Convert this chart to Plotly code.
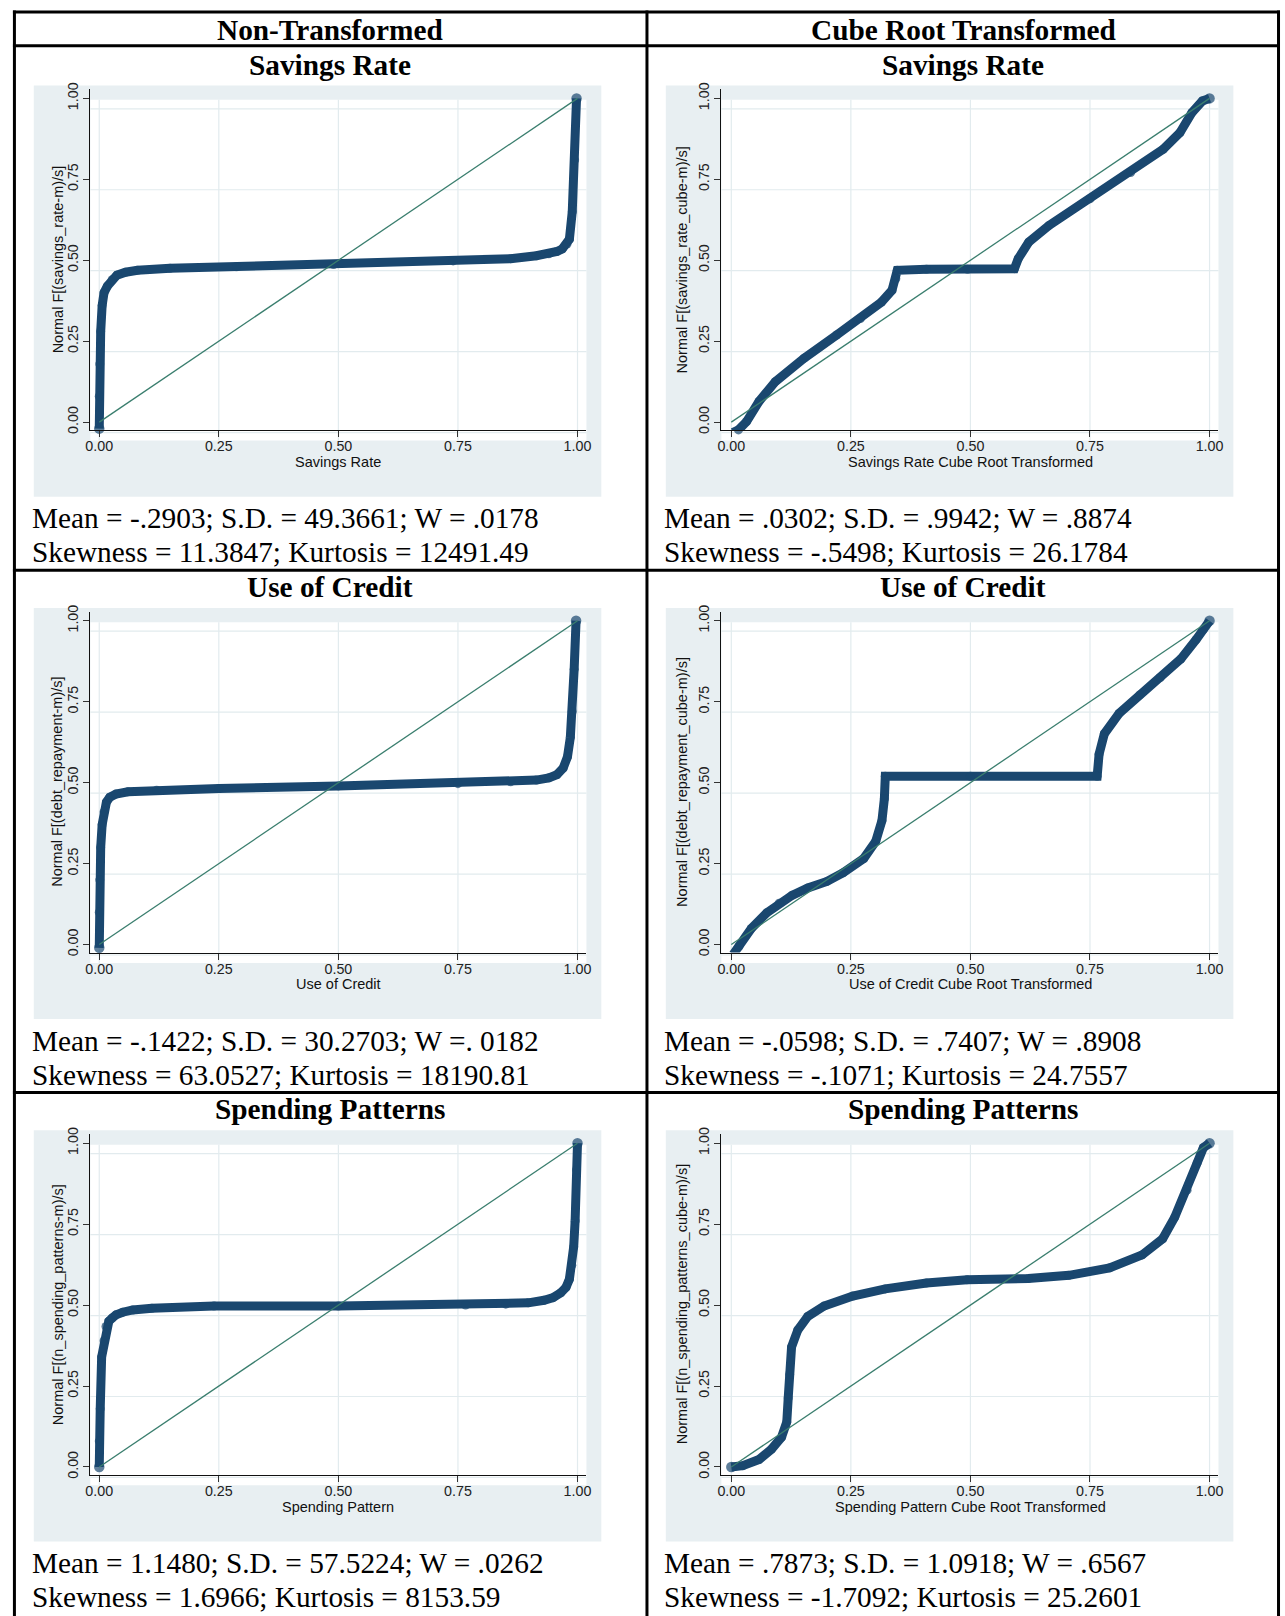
import plotly.graph_objects as go

W, H = 1285, 1616

# ---------------- data ----------------
col_headers = ["Non-Transformed", "Cube Root Transformed"]
row_titles = ["Savings Rate", "Use of Credit", "Spending Patterns"]

x_titles = [
    ["Savings Rate", "Savings Rate Cube Root Transformed"],
    ["Use of Credit", "Use of Credit Cube Root Transformed"],
    ["Spending Pattern", "Spending Pattern Cube Root Transformed"],
]
y_titles = [
    ["Normal F[(savings_rate-m)/s]", "Normal F[(savings_rate_cube-m)/s]"],
    ["Normal F[(debt_repayment-m)/s]", "Normal F[(debt_repayment_cube-m)/s]"],
    ["Normal F[(n_spending_patterns-m)/s]", "Normal F[(n_spending_patterns_cube-m)/s]"],
]
stats_line1 = [
    ["Mean = -.2903; S.D. = 49.3661; W = .0178", "Mean = .0302; S.D. = .9942; W = .8874"],
    ["Mean = -.1422; S.D. = 30.2703; W =. 0182", "Mean = -.0598; S.D. = .7407; W = .8908"],
    ["Mean = 1.1480; S.D. = 57.5224; W = .0262", "Mean = .7873; S.D. = 1.0918; W = .6567"],
]
stats_line2 = [
    ["Skewness = 11.3847; Kurtosis = 12491.49", "Skewness = -.5498; Kurtosis = 26.1784"],
    ["Skewness = 63.0527; Kurtosis = 18190.81", "Skewness = -.1071; Kurtosis = 24.7557"],
    ["Skewness = 1.6966; Kurtosis = 8153.59", "Skewness = -1.7092; Kurtosis = 25.2601"],
]

tick_vals = [0, 0.25, 0.5, 0.75, 1.0]
tick_text = ["0.00", "0.25", "0.50", "0.75", "1.00"]

ref_x = [0.0, 1.0]
ref_y = [0.0, 1.0]

savings_raw_x = [0.0, 0.0, 0.001, 0.003, 0.006, 0.010, 0.017, 0.027, 0.037, 0.055, 0.08, 0.148,
                 0.287, 0.49, 0.74, 0.86, 0.914, 0.94, 0.957, 0.968, 0.978, 0.983, 0.989, 0.994, 0.998]
savings_raw_y = [-0.02, 0.08, 0.18, 0.28, 0.36, 0.40, 0.42, 0.44, 0.454, 0.463, 0.469, 0.475,
                 0.48, 0.487, 0.498, 0.505, 0.514, 0.52, 0.527, 0.535, 0.55, 0.565, 0.65, 0.81, 1.0]

credit_raw_x = [0.0, 0.0, 0.001, 0.003, 0.006, 0.010, 0.015, 0.022, 0.035, 0.06, 0.12, 0.25,
                0.5, 0.75, 0.86, 0.914, 0.94, 0.957, 0.970, 0.979, 0.985, 0.989, 0.993, 0.997]
credit_raw_y = [-0.01, 0.10, 0.20, 0.30, 0.37, 0.41, 0.44, 0.455, 0.465, 0.472, 0.477, 0.482,
                0.49, 0.497, 0.503, 0.508, 0.515, 0.525, 0.545, 0.58, 0.64, 0.72, 0.85, 1.0]

spend_raw_x = [0.0, 0.0, 0.002, 0.005, 0.01, 0.014, 0.02, 0.027, 0.035, 0.049, 0.07, 0.11, 0.24,
               0.5, 0.766, 0.85, 0.897, 0.93, 0.949, 0.965, 0.976, 0.983, 0.988, 0.992, 0.995, 0.998, 1.0]
spend_raw_y = [0.0, 0.08, 0.18, 0.34, 0.39, 0.434, 0.45, 0.46, 0.47, 0.478, 0.485, 0.49, 0.497,
               0.497, 0.50, 0.503, 0.507, 0.515, 0.523, 0.538, 0.555, 0.58, 0.623, 0.68, 0.76, 0.918, 1.0]

savings_cube_x = [0.003, 0.015, 0.032, 0.058, 0.092, 0.152, 0.22, 0.27, 0.314, 0.336, 0.344, 0.347,
                  0.408, 0.494, 0.592, 0.60, 0.622, 0.664, 0.75, 0.835, 0.903, 0.938, 0.963, 0.985, 1.0]
savings_cube_y = [-0.032, -0.024, 0.002, 0.064, 0.125, 0.197, 0.269, 0.32, 0.371, 0.407, 0.443, 0.469,
                  0.472, 0.472, 0.474, 0.505, 0.556, 0.607, 0.69, 0.771, 0.843, 0.894, 0.956, 0.992, 1.0]

credit_cube_x = [0.004, 0.016, 0.042, 0.074, 0.10, 0.127, 0.16, 0.2, 0.234, 0.277, 0.302, 0.315, 0.32, 0.322,
                 0.5, 0.765, 0.769, 0.78, 0.811, 0.854, 0.897, 0.94, 0.972, 0.987, 1.0]
credit_cube_y = [-0.03, -0.006, 0.05, 0.098, 0.128, 0.152, 0.175, 0.195, 0.222, 0.266, 0.319, 0.383, 0.45, 0.52,
                 0.52, 0.52, 0.588, 0.651, 0.714, 0.771, 0.825, 0.882, 0.942, 0.974, 1.0]

spend_cube_x = [0.0, 0.024, 0.058, 0.084, 0.105, 0.116, 0.119, 0.122, 0.126, 0.139, 0.16, 0.194, 0.254,
                0.322, 0.408, 0.493, 0.621, 0.706, 0.791, 0.859, 0.902, 0.927, 0.953, 0.974, 0.987, 1.0]
spend_cube_y = [0.0, 0.004, 0.023, 0.055, 0.092, 0.139, 0.213, 0.286, 0.371, 0.423, 0.465, 0.497, 0.528,
                0.55, 0.568, 0.578, 0.582, 0.592, 0.615, 0.655, 0.705, 0.771, 0.855, 0.939, 0.986, 1.0]

curves = [
    [(savings_raw_x, savings_raw_y), (savings_cube_x, savings_cube_y)],
    [(credit_raw_x, credit_raw_y), (credit_cube_x, credit_cube_y)],
    [(spend_raw_x, spend_raw_y), (spend_cube_x, spend_cube_y)],
]

# ---------------- geometry (pixels) ----------------
ROW_STEP = 526
COL_X0PX = [95, 732]      # pixel of x = 0
COL_X1PX = [577, 1214]    # pixel of x = 1
COL_AX_L = [86, 722]      # axis line left end
COL_AX_R = [586, 1223]    # axis line right end
Y0PX, Y1PX = 418, 92      # pixel of y = 0 / y = 1 (row 1)
AX_T, AX_B = 83, 426      # y-axis line extent (row 1)
PANEL_X = [(29, 601), (666, 1238)]
PANEL_Y = (79, 493)
WHITE_SHIFT = 10.5
COL_CENTER = [328, 966]
STATS_X = [25, 662]
YTITLE_X = [53, 682]

NAVY = "#1A476F"
REF = "#3A7E6E"
PANEL_BG = "#E8EFF2"
GRID = "#E2EBEE"
SANS = "Liberation Sans, Arial, sans-serif"
SERIF = "Liberation Serif, Times New Roman, serif"
BIG = 29.3


def fx(px):
    return px / W


def fy(py):
    return 1 - py / H


fig = go.Figure()
shapes = []
annotations = []
layout = {}

for r in range(3):
    off = r * ROW_STEP
    for c in range(2):
        k = r * 2 + c + 1
        xa = "xaxis" if k == 1 else f"xaxis{k}"
        ya = "yaxis" if k == 1 else f"yaxis{k}"
        xref = "x" if k == 1 else f"x{k}"
        yref = "y" if k == 1 else f"y{k}"
        x0p, x1p = COL_X0PX[c], COL_X1PX[c]
        sx = x1p - x0p
        sy = Y0PX - Y1PX
        xr = [(COL_AX_L[c] - x0p) / sx, (COL_AX_R[c] - x0p) / sx]
        yr = [(Y0PX - AX_B) / sy, (Y0PX - AX_T) / sy]

        common = dict(
            showline=True, linecolor="#111", linewidth=1.2, mirror=False,
            ticks="outside", ticklen=6, tickwidth=1, tickcolor="#333",
            showgrid=False, zeroline=False, tickvals=tick_vals, ticktext=tick_text,
            tickfont=dict(family=SANS, size=14.3, color="#222"), fixedrange=True,
        )
        layout[xa] = dict(common, domain=[fx(COL_AX_L[c]), fx(COL_AX_R[c])], range=xr,
                          anchor=yref, ticklabelstandoff=-3)
        layout[ya] = dict(common, domain=[fy(AX_B + off), fy(AX_T + off)], range=yr,
                          anchor=xref, tickangle=-90)

        # gray panel
        px0, px1 = PANEL_X[c]
        shapes.append(dict(type="rect", xref="paper", yref="paper", layer="below",
                           x0=fx(px0), x1=fx(px1), y0=fy(PANEL_Y[1] + off), y1=fy(PANEL_Y[0] + off),
                           fillcolor=PANEL_BG, line=dict(width=0)))
        # white plot region (shifted, as in the reference)
        wt, wb = AX_T + WHITE_SHIFT + off, AX_B + WHITE_SHIFT + off
        shapes.append(dict(type="rect", xref="paper", yref="paper", layer="below",
                           x0=fx(COL_AX_L[c]), x1=fx(COL_AX_R[c]), y0=fy(wb), y1=fy(wt),
                           fillcolor="white", line=dict(width=0)))
        # grid lines
        for v in tick_vals:
            gx = x0p + v * sx
            shapes.append(dict(type="line", xref="paper", yref="paper", layer="below",
                               x0=fx(gx), x1=fx(gx), y0=fy(wb), y1=fy(wt),
                               line=dict(color=GRID, width=1.2)))
            gy = Y0PX - v * sy + WHITE_SHIFT + off
            shapes.append(dict(type="line", xref="paper", yref="paper", layer="below",
                               x0=fx(COL_AX_L[c]), x1=fx(COL_AX_R[c]), y0=fy(gy), y1=fy(gy),
                               line=dict(color=GRID, width=1.2)))

        cx, cy = curves[r][c]
        n = len(cx)
        msize = [10.5] + [9] * (n - 2) + [10.5]
        fig.add_trace(go.Scatter(x=cx, y=cy, mode="lines+markers", xaxis=xref, yaxis=yref,
                                 line=dict(color=NAVY, width=9),
                                 marker=dict(color=NAVY, size=msize, line=dict(width=0)),
                                 hoverinfo="skip", showlegend=False, cliponaxis=False))
        fig.add_trace(go.Scatter(x=ref_x, y=ref_y, mode="lines", xaxis=xref, yaxis=yref,
                                 line=dict(color=REF, width=1.3),
                                 hoverinfo="skip", showlegend=False))

        # axis titles
        xmid = x0p + 0.5 * sx
        annotations.append(dict(text=x_titles[r][c], xref="paper", yref="paper",
                                x=fx(xmid), y=fy(458 + off), xanchor="center", yanchor="middle",
                                showarrow=False, font=dict(family=SANS, size=14.5, color="#111")))
        annotations.append(dict(text=y_titles[r][c], xref="paper", yref="paper",
                                x=fx(YTITLE_X[c]), y=fy((AX_T + AX_B) / 2 + off),
                                xanchor="center", yanchor="middle", textangle=-90,
                                showarrow=False, font=dict(family=SANS, size=14.5, color="#111")))
        # row title
        annotations.append(dict(text=f"<b>{row_titles[r]}</b>", xref="paper", yref="paper",
                                x=fx(COL_CENTER[c]), y=fy(58 + off), xanchor="center",
                                yanchor="middle", showarrow=False,
                                font=dict(family=SERIF, size=BIG, color="#000")))
        # stats
        annotations.append(dict(text=stats_line1[r][c], xref="paper", yref="paper",
                                x=fx(STATS_X[c]), y=fy(515 + off), xanchor="left",
                                yanchor="middle", showarrow=False,
                                font=dict(family=SERIF, size=BIG, color="#000")))
        annotations.append(dict(text=stats_line2[r][c], xref="paper", yref="paper",
                                x=fx(STATS_X[c]), y=fy(549 + off), xanchor="left",
                                yanchor="middle", showarrow=False,
                                font=dict(family=SERIF, size=BIG, color="#000")))

for c in range(2):
    annotations.append(dict(text=f"<b>{col_headers[c]}</b>", xref="paper", yref="paper",
                            x=fx(COL_CENTER[c]), y=fy(23), xanchor="center", yanchor="middle",
                            showarrow=False, font=dict(family=SERIF, size=BIG, color="#000")))

# table rules
BL = dict(color="black", width=3)
table_h = [5, 39, 567, 567 + ROW_STEP]
for yy in table_h:
    shapes.append(dict(type="line", xref="paper", yref="paper", x0=fx(8), x1=fx(1285),
                       y0=fy(yy), y1=fy(yy), line=BL))
for xx in [9.5, 647, 1283.5]:
    shapes.append(dict(type="line", xref="paper", yref="paper", x0=fx(xx), x1=fx(xx),
                       y0=fy(3.5), y1=fy(H + 5), line=BL))

fig.update_layout(
    width=W, height=H, margin=dict(l=0, r=0, t=0, b=0),
    paper_bgcolor="white", plot_bgcolor="rgba(0,0,0,0)",
    shapes=shapes, annotations=annotations, showlegend=False,
    **layout,
)

fig.write_html("out.html", config={"displayModeBar": False},
               post_script="document.body.style.margin='0';document.body.style.overflow='hidden';")
